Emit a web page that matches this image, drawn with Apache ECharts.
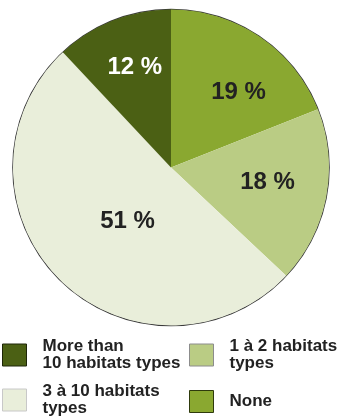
<!DOCTYPE html>
<html>
<head>
<meta charset="utf-8">
<script src="https://cdn.jsdelivr.net/npm/echarts@6/dist/echarts.min.js"></script>
<style>
html,body{margin:0;padding:0;background:#fff;}
#chart{width:337px;height:420px;}
</style>
</head>
<body>
<div id="chart"></div>
<script>
const categories = ['None', '1 à 2 habitats types', '3 à 10 habitats types', 'More than 10 habitats types'];
const values = [19, 18, 51, 12];
const legendTexts = ['None', '1 à 2 habitats\ntypes', '3 à 10 habitats\ntypes', 'More than\n10 habitats types'];
const colors = ['#8aa830', '#bacc84', '#e9eeda', '#4b6014'];
const labelColors = ['#222222', '#222222', '#222222', '#ffffff'];
const labelOffsets = [[21.5, -7], [16, 0], [14.5, -4], [-6, -23.5]];
const iconBorders = ['#2e3a0c', '#8c8c8c', '#c8c8c8', '#1e2608'];

const FONT = '"Liberation Sans", Arial, Helvetica, sans-serif';
const chart = echarts.init(document.getElementById('chart'), null, {renderer: 'canvas'});

const pieData = categories.map((c, i) => ({
  name: c,
  value: values[i],
  itemStyle: {color: colors[i]},
  label: {color: labelColors[i], offset: labelOffsets[i]}
}));

// legend placement: [index, left, top]
const legendPlaces = [[3, 2, 338], [1, 189, 338], [2, 2, 383], [0, 189, 390]];
const legends = legendPlaces.map(([i, l, t]) => ({
  data: [categories[i]],
  left: l,
  top: t,
  padding: 0,
  orient: 'vertical',
  icon: 'rect',
  itemWidth: 24,
  itemHeight: 22,
  selectedMode: false,
  itemStyle: {borderColor: iconBorders[i], borderWidth: 1},
  formatter: name => legendTexts[categories.indexOf(name)],
  textStyle: {
    fontFamily: FONT, fontSize: 17, fontWeight: 'bold', color: '#222222',
    lineHeight: 17, padding: [0, 0, 0, 11]
  }
}));

chart.setOption({
  animation: false,
  backgroundColor: '#ffffff',
  legend: legends,
  series: [
    {
      type: 'pie',
      name: 'outline',
      silent: true,
      center: [171, 167.5],
      radius: [157.6, 158.8],
      startAngle: 90,
      label: {show: false},
      labelLine: {show: false},
      itemStyle: {color: '#3a3a3a'},
      data: [{value: 1, name: ''}]
    },
    {
      type: 'pie',
      name: 'habitats',
      center: [171, 167.5],
      radius: [0, 158],
      startAngle: 90,
      clockwise: true,
      avoidLabelOverlap: false,
      silent: true,
      itemStyle: {borderWidth: 0},
      label: {
        show: true,
        position: 'inside',
        formatter: p => p.value + ' %',
        fontFamily: FONT,
        fontSize: 24,
        fontWeight: 'bold'
      },
      labelLine: {show: false},
      data: pieData
    }
  ]
});
</script>
</body>
</html>
